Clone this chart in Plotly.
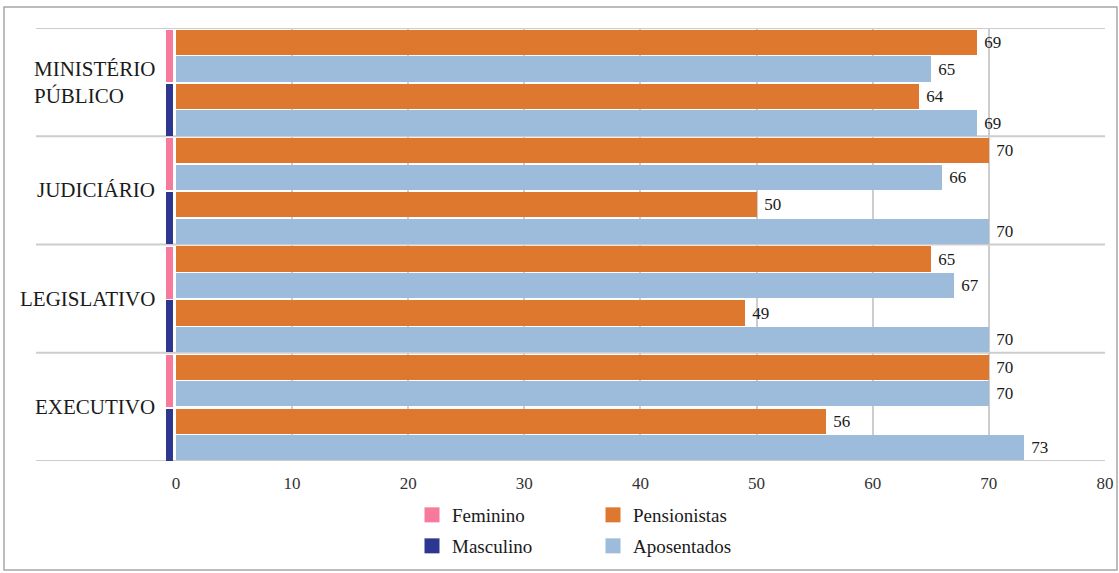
import plotly.graph_objects as go

# Categories from bottom to top of the chart
categories = ["EXECUTIVO", "LEGISLATIVO", "JUDICIÁRIO", "MINISTÉRIO<br>PÚBLICO"]

# Average ages per power and gender
pens_fem = [70, 65, 70, 69]
apos_fem = [70, 67, 66, 65]
pens_masc = [56, 49, 50, 64]
apos_masc = [73, 70, 70, 69]

x_ticks = [0, 10, 20, 30, 40, 50, 60, 70, 80]
grid_ticks = [10, 20, 30, 40, 50, 60, 70, 80]

ORANGE = "#DE782E"
LIGHTBLUE = "#9DBBDA"
PINK = "#F7799B"
NAVY = "#2E3790"
GRID = "#CDCDCD"
FONT = "Liberation Serif"

W, H = 1119, 573
ML, MR, MT = 162, 14, 28
PLOT_BOTTOM = 461
MB = H - PLOT_BOTTOM
PW, PH = W - ML - MR, PLOT_BOTTOM - MT


def px_x(p):
    return (p - ML) / PW


def px_y(p):
    return (PLOT_BOTTOM - p) / PH


n = len(categories)
# row centres inside each category band (band = 1 unit)
ROW_PF, ROW_AF, ROW_PM, ROW_AM = 0.866, 0.621, 0.367, 0.122
BAR_W = 0.232
TAG_F, TAG_M, TAG_W = 0.741, 0.243, 0.48

fig = go.Figure()

# gender tags at the left of each pair of bars
fig.add_trace(go.Bar(
    name="Feminino", orientation="h",
    y=[i + TAG_F for i in range(n)], x=[0.6] * n, base=[-0.86] * n,
    width=TAG_W, marker=dict(color=PINK, line=dict(width=0)),
    showlegend=False, hoverinfo="skip",
))
fig.add_trace(go.Bar(
    name="Masculino", orientation="h",
    y=[i + TAG_M for i in range(n)], x=[0.6] * n, base=[-0.86] * n,
    width=TAG_W, marker=dict(color=NAVY, line=dict(width=0)),
    showlegend=False, hoverinfo="skip",
))

# value bars
fig.add_trace(go.Bar(
    name="Pensionistas", orientation="h",
    y=[i + ROW_PF for i in range(n)] + [i + ROW_PM for i in range(n)],
    x=pens_fem + pens_masc,
    width=BAR_W, marker=dict(color=ORANGE, line=dict(width=0)),
    text=pens_fem + pens_masc, texttemplate=" %{text}", textposition="outside",
    textfont=dict(family=FONT, size=17, color="#1a1a1a"),
    cliponaxis=False, constraintext="none", showlegend=False,
))
fig.add_trace(go.Bar(
    name="Aposentados", orientation="h",
    y=[i + ROW_AF for i in range(n)] + [i + ROW_AM for i in range(n)],
    x=apos_fem + apos_masc,
    width=BAR_W, marker=dict(color=LIGHTBLUE, line=dict(width=0)),
    text=apos_fem + apos_masc, texttemplate=" %{text}", textposition="outside",
    textfont=dict(family=FONT, size=17, color="#1a1a1a"),
    cliponaxis=False, constraintext="none", showlegend=False,
))

# legend keys as square swatches, two rows of two
legend_keys = [("Feminino", PINK, "legend"), ("Pensionistas", ORANGE, "legend"),
               ("Masculino", NAVY, "legend2"), ("Aposentados", LIGHTBLUE, "legend2")]
for name, color, leg in legend_keys:
    fig.add_trace(go.Scatter(
        name=name, x=[None], y=[None], mode="markers",
        marker=dict(symbol="square", size=15, color=color, line=dict(width=0)),
        legend=leg, hoverinfo="skip",
    ))

shapes = []
# band separators extending under the category labels
for k in range(n + 1):
    shapes.append(dict(type="line", xref="paper", yref="y",
                       x0=px_x(36), x1=1, y0=k, y1=k,
                       line=dict(color=GRID, width=2), layer="below"))
# outer frame
shapes.append(dict(type="rect", xref="paper", yref="paper",
                   x0=px_x(4), x1=px_x(1117), y0=px_y(570), y1=px_y(7),
                   line=dict(color="#A6A6A6", width=1.5), layer="below"))

annotations = []
for i, cat in enumerate(categories):
    annotations.append(dict(
        text=cat, xref="paper", yref="y", x=px_x(157), y=i + 0.5,
        xanchor="right", yanchor="middle", align="left", showarrow=False,
        font=dict(family=FONT, size=21, color="#1a1a1a"),
    ))

legend_common = dict(
    orientation="h", xanchor="left", yanchor="middle",
    entrywidth=136, entrywidthmode="pixels", traceorder="normal",
    itemsizing="trace",
    font=dict(family=FONT, size=19, color="#1a1a1a"),
    bgcolor="rgba(0,0,0,0)",
)

fig.update_layout(
    width=W, height=H,
    margin=dict(l=ML, r=MR, t=MT, b=MB, pad=0, autoexpand=False),
    paper_bgcolor="white", plot_bgcolor="white",
    barmode="overlay", bargap=0,
    showlegend=True,
    legend=dict(x=px_x(412), y=px_y(515), **legend_common),
    legend2=dict(x=px_x(412), y=px_y(546), **legend_common),
    xaxis=dict(
        range=[-1.2, 80], tickvals=x_ticks, ticktext=[str(v) for v in x_ticks],
        showgrid=False, zeroline=False, showline=False, automargin=False,
        ticks="outside", ticklen=7, tickcolor="rgba(0,0,0,0)",
        tickfont=dict(family=FONT, size=17, color="#333333"),
        minor=dict(tickvals=grid_ticks, showgrid=True, gridcolor=GRID, gridwidth=2),
        fixedrange=True,
    ),
    yaxis=dict(
        range=[0, n], showticklabels=False, showgrid=False, automargin=False,
        zeroline=False, showline=False, fixedrange=True,
    ),
    shapes=shapes,
    annotations=annotations,
)

fig.write_html("out.html")
